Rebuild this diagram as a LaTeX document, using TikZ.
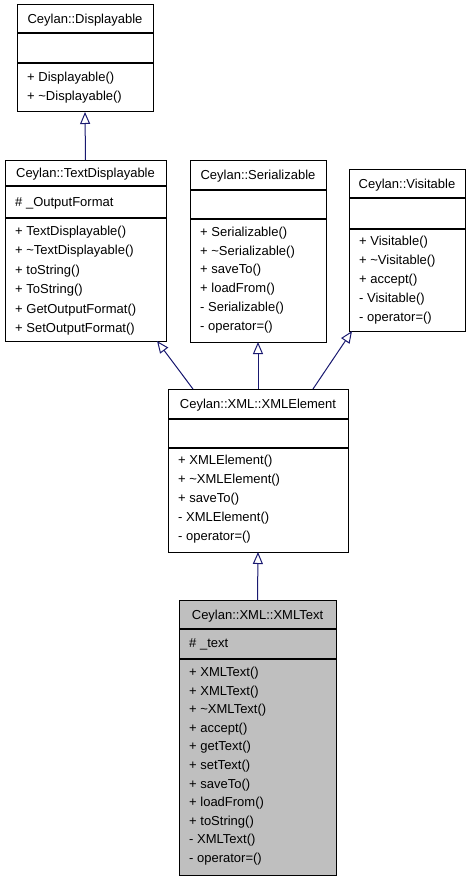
\documentclass[tikz,border=0pt]{standalone}
\usepackage{fontspec}
\setmainfont{Liberation Sans}
\usetikzlibrary{arrows.meta}
\definecolor{edgeblue}{HTML}{191970}
\definecolor{boxgray}{HTML}{BFBFBF}
\newcommand\umlfont{\fontsize{13}{15}\selectfont}
\tikzset{
  classbox/.style={draw=black, line width=1pt, inner sep=0pt, outer sep=0pt, anchor=north west, fill=white},
  sepline/.style={draw=black, line width=1.2pt},
  ttl/.style={inner sep=0pt, anchor=center, font=\umlfont, text height=10pt, text depth=1pt},
  mem/.style={inner sep=0pt, anchor=west, font=\umlfont, text height=10pt, text depth=1pt},
  inh/.style={draw=edgeblue, line width=1pt, -{Triangle[open, length=12pt, width=10pt, line width=1pt]}}
}
% name, left, top, right, bottom, sep1, sep2, fill, title
\newcommand\umlclass[9]{%
  \node[classbox, fill=#8, minimum width={(#4-#2)*1pt}, minimum height={(#5-#3)*1pt}] (#1) at (#2,#3) {};
  \draw[sepline] (#2,#6) -- (#4,#6);
  \draw[sepline] (#2,#7) -- (#4,#7);
  \node[ttl] (#1-title) at ({(#2+#4)/2},{(#3+#6)/2}) {#9};
}
% name, x, y0, dy, list
\newcommand\umlmembers[5]{%
  \foreach \t [count=\i] in {#5} {
    \node[mem] (#1-m\i) at (#2,{#3+(\i-1)*#4}) {\t};
  }
}
\newcommand\tl{\textasciitilde}
\begin{document}
\begin{tikzpicture}[x=1pt, y=-1pt]
\useasboundingbox (0,0) rectangle (475,880);

\umlclass{disp}{17}{5}{153}{112}{33}{63}{white}{Ceylan::Displayable}
\umlmembers{disp}{27}{77}{19.5}{+ Displayable(), + \tl Displayable()}

\umlclass{td}{5}{160}{166}{341}{186}{218}{white}{Ceylan::TextDisplayable}
\node[mem] (td-a1) at (15,202) {\# \_OutputFormat};
\umlmembers{td}{15}{231}{19.4}{+ TextDisplayable(), + \tl TextDisplayable(), + toString(), + ToString(), + GetOutputFormat(), + SetOutputFormat()}

\umlclass{ser}{190}{160}{326}{342}{190}{219}{white}{Ceylan::Serializable}
\umlmembers{ser}{200}{232}{18.7}{+ Serializable(), + \tl Serializable(), + saveTo(), + loadFrom(), - Serializable(), - operator=()}

\umlclass{vis}{349}{169}{465}{331}{198}{229}{white}{Ceylan::Visitable}
\umlmembers{vis}{359}{241}{19}{+ Visitable(), + \tl Visitable(), + accept(), - Visitable(), - operator=()}

\umlclass{xe}{168}{389}{348}{552}{419}{448}{white}{Ceylan::XML::XMLElement}
\umlmembers{xe}{178}{460}{19}{+ XMLElement(), + \tl XMLElement(), + saveTo(), - XMLElement(), - operator=()}

\umlclass{xt}{179}{600}{336}{875}{629}{659}{boxgray}{Ceylan::XML::XMLText}
\node[mem] (xt-a1) at (189,643) {\# \_text};
\umlmembers{xt}{189}{672}{18.6}{+ XMLText(), + XMLText(), + \tl XMLText(), + accept(), + getText(), + setText(), + saveTo(), + loadFrom(), + toString(), - XMLText(), - operator=()}

\draw[inh] (td.north) -- (disp.south);
\draw[inh] ([xshift=25pt]xe.north west) -- ([xshift=-9pt]td.south east);
\draw[inh] (xe.north) -- (ser.south);
\draw[inh] ([xshift=145pt]xe.north west) -- ([xshift=3pt]vis.south west);
\draw[inh] (xt.north) -- (xe.south);
\end{tikzpicture}
\end{document}
